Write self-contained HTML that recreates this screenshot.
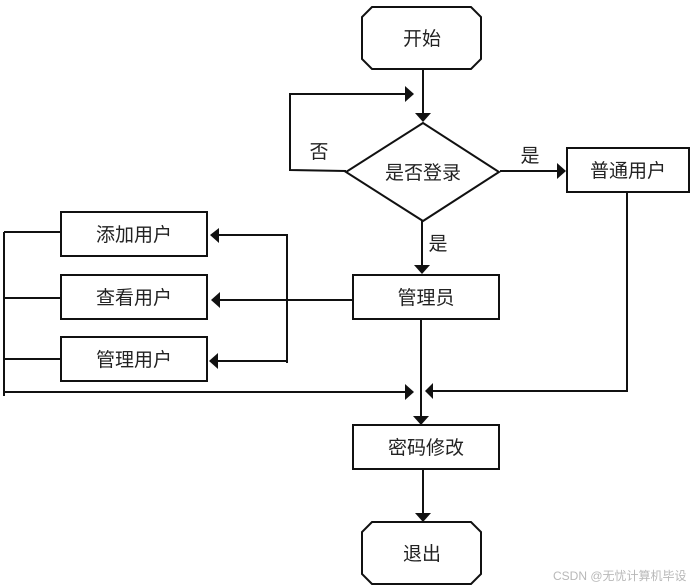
<!DOCTYPE html>
<html><head><meta charset="utf-8"><style>
html,body{margin:0;padding:0;background:#fff;}
svg{display:block;}
text{font-family:"Liberation Sans","Noto Sans CJK SC",sans-serif;fill:#222;}
</style></head><body>
<svg width="696" height="588" viewBox="0 0 696 588" xmlns="http://www.w3.org/2000/svg">
<g stroke="#111" stroke-width="2" fill="none">
<!-- start -->
<polygon points="372,7 471,7 481,17 481,59 471,69 372,69 362,59 362,17" fill="#fff"/>
<!-- diamond -->
<polygon points="423,123 499,172 423,221 346,172" fill="#fff"/>
<rect x="567" y="148" width="122" height="44"/>
<rect x="353" y="275" width="146" height="44"/>
<rect x="61" y="212" width="146" height="44"/>
<rect x="61" y="275" width="146" height="44"/>
<rect x="61" y="337" width="146" height="44"/>
<rect x="353" y="425" width="146" height="44"/>
<polygon points="372,522 471,522 481,532 481,574 471,584 372,584 362,574 362,532" fill="#fff"/>
<!-- lines -->
<line x1="423" y1="69" x2="423" y2="114"/>
<polyline points="346,171 290,170 290,94 406,94"/>
<line x1="500" y1="171" x2="558" y2="171"/>
<line x1="422" y1="221" x2="422" y2="266"/>
<line x1="353" y1="300" x2="219" y2="300"/>
<polyline points="218,235 287,235 287,363"/>
<line x1="218" y1="361" x2="287" y2="361"/>
<line x1="4" y1="232" x2="4" y2="396"/>
<line x1="4" y1="232" x2="61" y2="232"/>
<line x1="4" y1="298" x2="61" y2="298"/>
<line x1="4" y1="359" x2="61" y2="359"/>
<line x1="4" y1="392" x2="406" y2="392"/>
<line x1="421" y1="319" x2="421" y2="416"/>
<polyline points="627,192 627,391 433,391"/>
<line x1="423" y1="469" x2="423" y2="513"/>
</g>
<g fill="#111">
<polygon points="415,113 431,113 423,122"/>
<polygon points="405,86 405,102 414,94"/>
<polygon points="557,163 557,179 566,171"/>
<polygon points="414,265 430,265 422,274"/>
<polygon points="219,228 219,243 210,235"/>
<polygon points="220,292 220,308 211,300"/>
<polygon points="218,353 218,369 209,361"/>
<polygon points="405,384 405,400 414,392"/>
<polygon points="433,383 433,399 425,391"/>
<polygon points="413,416 429,416 421,425"/>
<polygon points="415,513 431,513 423,522"/>
</g>
<g font-size="19" text-anchor="middle">
<text x="422" y="45">开始</text>
<text x="423" y="179">是否登录</text>
<text x="628" y="177">普通用户</text>
<text x="426" y="304">管理员</text>
<text x="134" y="241">添加用户</text>
<text x="134" y="304">查看用户</text>
<text x="134" y="366">管理用户</text>
<text x="426" y="454">密码修改</text>
<text x="422" y="560">退出</text>
<text x="319" y="158">否</text>
<text x="530" y="162">是</text>
<text x="438" y="250">是</text>
</g>
<text x="553" y="580" font-size="12" style="fill:#b8b8b8">CSDN @无忧计算机毕设</text>
</svg>
</body></html>
